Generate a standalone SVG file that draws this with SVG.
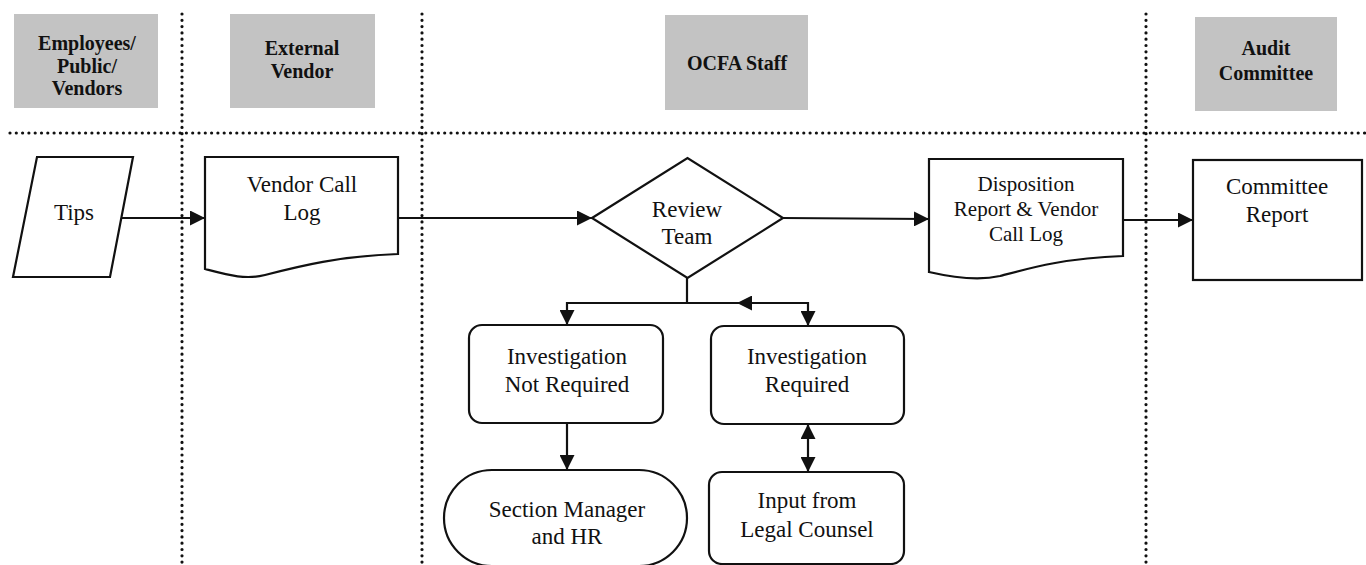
<svg xmlns="http://www.w3.org/2000/svg" width="1366" height="565" viewBox="0 0 1366 565">
<defs>
<style>
.hdr{fill:#c3c3c3;stroke:none}
.ht{font-family:"Liberation Serif","Times New Roman",serif;font-weight:bold;font-size:20px;fill:#111;text-anchor:middle}
.t{font-family:"Liberation Serif","Times New Roman",serif;font-size:23px;fill:#111;text-anchor:middle}
.ts{font-family:"Liberation Serif","Times New Roman",serif;font-size:21px;fill:#111;text-anchor:middle}
.shape{fill:#fff;stroke:#111;stroke-width:2.2}
.dot{stroke:#111;stroke-width:3.2;stroke-linecap:round;stroke-dasharray:0 6.3;fill:none}
.ln{stroke:#111;stroke-width:2.2;fill:none}
</style>
<marker id="ah" viewBox="0 0 10 10" refX="10" refY="5" markerWidth="15" markerHeight="15" markerUnits="userSpaceOnUse" orient="auto-start-reverse">
<path d="M0,0 L10,5 L0,10 Z" fill="#111"/>
</marker>
</defs>
<rect width="1366" height="565" fill="#fff"/>

<g id="lanes">
<line class="dot" x1="10" y1="133" x2="1366" y2="133"/>
<line class="dot" x1="182" y1="14" x2="182" y2="565"/>
<line class="dot" x1="422" y1="14" x2="422" y2="565"/>
<line class="dot" x1="1146" y1="14" x2="1146" y2="565"/>
</g>

<g id="hdr-employees">
<rect class="hdr" x="14" y="14" width="144" height="94"/>
<text class="ht" x="87" y="50">Employees/</text>
<text class="ht" x="87" y="73">Public/</text>
<text class="ht" x="87" y="95">Vendors</text>
</g>
<g id="hdr-vendor">
<rect class="hdr" x="230" y="14" width="145" height="94"/>
<text class="ht" x="302" y="55">External</text>
<text class="ht" x="302" y="78">Vendor</text>
</g>
<g id="hdr-ocfa">
<rect class="hdr" x="665" y="15" width="143" height="95"/>
<text class="ht" x="737" y="70">OCFA Staff</text>
</g>
<g id="hdr-audit">
<rect class="hdr" x="1195" y="17" width="142" height="94"/>
<text class="ht" x="1266" y="55">Audit</text>
<text class="ht" x="1266" y="80">Committee</text>
</g>

<g id="connectors">
<line class="ln" x1="122" y1="218" x2="205" y2="218" marker-end="url(#ah)"/>
<line class="ln" x1="398" y1="218" x2="592" y2="218" marker-end="url(#ah)"/>
<line class="ln" x1="783" y1="218" x2="929" y2="219" marker-end="url(#ah)"/>
<line class="ln" x1="1123" y1="220" x2="1193" y2="220" marker-end="url(#ah)"/>
<polyline class="ln" points="687,278 687,303 567,303 567,325" marker-end="url(#ah)"/>
<line class="ln" x1="687" y1="303" x2="737" y2="303"/>
<line class="ln" x1="770" y1="303" x2="737" y2="303" marker-end="url(#ah)"/>
<polyline class="ln" points="760,303 808,303 808,326" marker-end="url(#ah)"/>
<line class="ln" x1="567" y1="423" x2="567" y2="470" marker-end="url(#ah)"/>
<line class="ln" x1="808" y1="424" x2="808" y2="472" marker-start="url(#ah)" marker-end="url(#ah)"/>
</g>

<g id="tips">
<polygon class="shape" points="37,157 133,157 110,277 13,277"/>
<text class="t" x="74" y="220">Tips</text>
</g>
<g id="vendor-call-log">
<path class="shape" d="M205,157 H398 V254 C340,256 300,266 265,275 C245,280 228,275 205,269 Z"/>
<text class="t" x="302" y="192">Vendor Call</text>
<text class="t" x="302" y="220">Log</text>
</g>
<g id="review-team">
<polygon class="shape" points="592,218 687.5,158 783,218 687.5,278"/>
<text class="t" x="687" y="217">Review</text>
<text class="t" x="687" y="244">Team</text>
</g>
<g id="disposition">
<path class="shape" d="M929,159 H1123 V256 C1065,258 1030,268 1000,276 C978,281 955,278 929,272 Z"/>
<text class="ts" x="1026" y="191">Disposition</text>
<text class="ts" x="1026" y="216">Report &amp; Vendor</text>
<text class="ts" x="1026" y="241">Call Log</text>
</g>
<g id="committee-report">
<rect class="shape" x="1193" y="160" width="169" height="120"/>
<text class="t" x="1277" y="194">Committee</text>
<text class="t" x="1277" y="222">Report</text>
</g>
<g id="not-required">
<rect class="shape" x="469" y="325" width="194" height="98" rx="13"/>
<text class="t" x="567" y="364">Investigation</text>
<text class="t" x="567" y="392">Not Required</text>
</g>
<g id="required">
<rect class="shape" x="711" y="326" width="193" height="98" rx="13"/>
<text class="t" x="807" y="364">Investigation</text>
<text class="t" x="807" y="392">Required</text>
</g>
<g id="section-manager">
<rect class="shape" x="444" y="470" width="243" height="96" rx="48"/>
<text class="t" x="567" y="517">Section Manager</text>
<text class="t" x="567" y="544">and HR</text>
</g>
<g id="legal-counsel">
<rect class="shape" x="709" y="472" width="195" height="92" rx="13"/>
<text class="t" x="807" y="508">Input from</text>
<text class="t" x="807" y="537">Legal Counsel</text>
</g>
</svg>
